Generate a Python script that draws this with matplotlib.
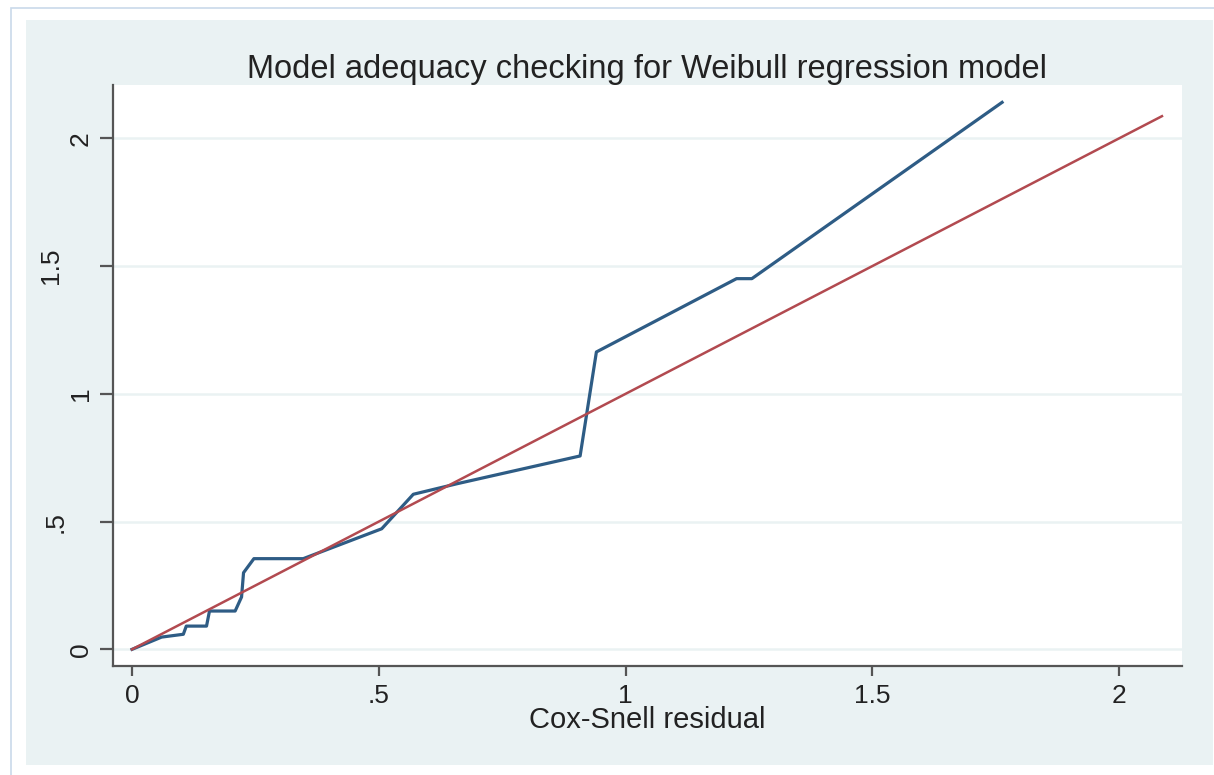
import matplotlib.pyplot as plt
import matplotlib.transforms as mtransforms
from matplotlib.patches import Rectangle

# Cox-Snell residuals vs cumulative hazard
cs_resid = [0, 0.06, 0.104, 0.11, 0.151, 0.157, 0.209, 0.222, 0.226, 0.247, 0.347,
            0.506, 0.570, 0.658, 0.908, 0.941, 1.225, 1.256, 1.763]
cum_hazard = [0, 0.048, 0.059, 0.091, 0.091, 0.15, 0.15, 0.205, 0.30, 0.355, 0.355,
              0.472, 0.607, 0.648, 0.757, 1.164, 1.451, 1.451, 2.141]
ref_line = [0, 2.087]

tick_vals = [0, 0.5, 1, 1.5, 2]
tick_labels = ["0", ".5", "1", "1.5", "2"]

plt.rcParams['font.family'] = ['Liberation Sans', 'DejaVu Sans']

W, H = 1214, 775
fig = plt.figure(figsize=(W / 100, H / 100), dpi=100)
fig.patch.set_facecolor("white")

# graph region background and thin outer border (behind the axes)
fig.patches.append(Rectangle((26 / W, 1 - 765 / H), (1213 - 26) / W, (765 - 20) / H,
                             transform=fig.transFigure, facecolor="#eaf2f3",
                             edgecolor="none", zorder=-2))
fig.patches.append(Rectangle((11 / W, -0.05), 1.1, 1.05 - 8 / H,
                             transform=fig.transFigure, facecolor="none",
                             edgecolor="#c9d9ea", linewidth=1.2, zorder=-1))

ax = fig.add_axes([113 / W, 1 - 665.7 / H, (1181.7 - 113) / W, (665.7 - 85) / H])
ax.set_facecolor("white")

ax.plot(cs_resid, cum_hazard, color="#2e5c85", linewidth=2.3, zorder=3)
ax.plot(ref_line, ref_line, color="#b24a50", linewidth=1.8, zorder=4)

ax.set_xlim(-0.0385, 2.127)
ax.set_ylim(-0.064, 2.209)

ax.set_xticks(tick_vals)
ax.set_xticklabels(tick_labels)
ax.set_yticks(tick_vals)
ax.set_yticklabels(tick_labels, rotation=90, va="center")

ax.grid(axis="y", color="#eaf2f3", linewidth=1.8)
ax.set_axisbelow(True)

for side in ["top", "right"]:
    ax.spines[side].set_visible(False)
for side in ["left", "bottom"]:
    ax.spines[side].set_color("#555555")
    ax.spines[side].set_linewidth(1.6)

ax.tick_params(axis="both", direction="out", width=1.6, color="#555555",
               labelsize=19, labelcolor="#222222")
ax.tick_params(axis="x", length=7, pad=6)
ax.tick_params(axis="y", length=9.5, pad=5)

# Stata-style: labels with a decimal point sit further left
for lab in ax.get_yticklabels():
    shift = {".5": -25, "1.5": -30}.get(lab.get_text(), 0)
    lab.set_transform(lab.get_transform() +
                      mtransforms.ScaledTranslation(shift / 100, 0, fig.dpi_scale_trans))

ax.set_title("Model adequacy checking for Weibull regression model",
             fontsize=23.5, color="#222222", pad=4.5)
ax.set_xlabel("Cox-Snell residual", fontsize=21, color="#222222", labelpad=-1)

fig.savefig("out.png", dpi=100)
